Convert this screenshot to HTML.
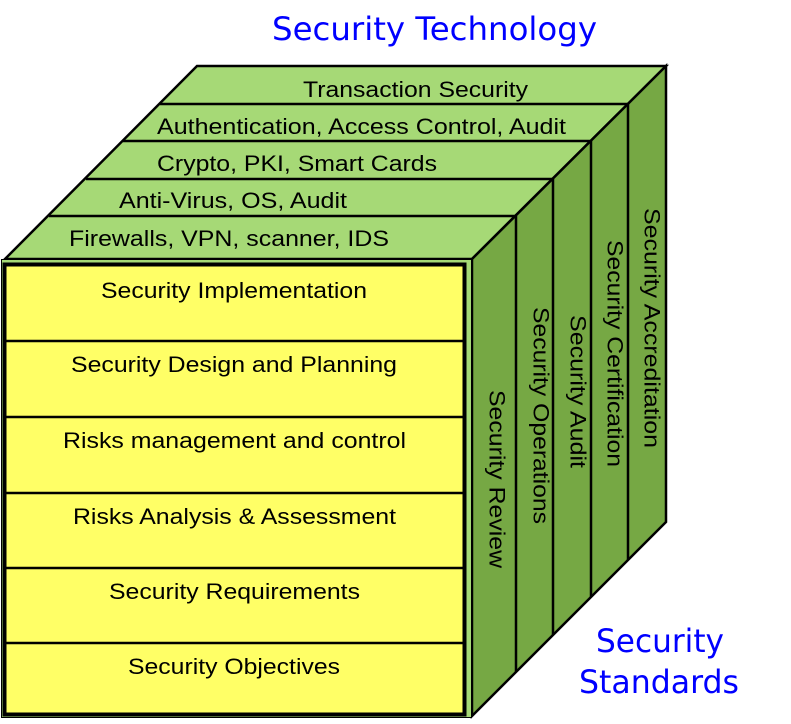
<!DOCTYPE html>
<html><head><meta charset="utf-8"><style>
html,body{margin:0;padding:0;background:#fff;}
svg{display:block;}
text{font-family:"Liberation Sans",Arial,sans-serif;fill:#000;}
.t{font-family:"DejaVu Sans","Liberation Sans",sans-serif;fill:#0000ff;}
</style></head><body>
<svg width="791" height="724" viewBox="0 0 791 724" xmlns="http://www.w3.org/2000/svg">
<polygon points="197,66 666,66 472,259 5,259" fill="#a6d976" stroke="#000" stroke-width="2.5"/>
<g stroke="#000" stroke-width="2.5">
<line x1="160" y1="104" x2="628" y2="104"/>
<line x1="123" y1="141" x2="591" y2="141"/>
<line x1="86" y1="179" x2="553" y2="179"/>
<line x1="49" y1="216" x2="516" y2="216"/>
</g>
<polygon points="472,259 666,66 666,522 472,716" fill="#76a844" stroke="#000" stroke-width="2.5"/>
<g stroke="#000" stroke-width="2.5">
<line x1="516" y1="216" x2="516" y2="672"/>
<line x1="553" y1="179" x2="553" y2="635"/>
<line x1="591" y1="141" x2="591" y2="597"/>
<line x1="628" y1="104" x2="628" y2="560"/>
</g>
<rect x="1.5" y="259.5" width="470" height="458" fill="#a6d976" stroke="#000" stroke-width="1"/>
<rect x="4.5" y="264.5" width="460" height="450" fill="#ffff66" stroke="#000" stroke-width="4"/>
<g stroke="#000" stroke-width="2.5">
<line x1="5" y1="341" x2="465" y2="341"/>
<line x1="5" y1="417" x2="465" y2="417"/>
<line x1="5" y1="493" x2="465" y2="493"/>
<line x1="5" y1="568" x2="465" y2="568"/>
<line x1="5" y1="643" x2="465" y2="643"/>
</g>
<g font-size="22" lengthAdjust="spacingAndGlyphs">
<text x="303" y="97" textLength="225" lengthAdjust="spacingAndGlyphs">Transaction Security</text>
<text x="157" y="134" textLength="409" lengthAdjust="spacingAndGlyphs">Authentication, Access Control, Audit</text>
<text x="157" y="171" textLength="280" lengthAdjust="spacingAndGlyphs">Crypto, PKI, Smart Cards</text>
<text x="119" y="208" textLength="228" lengthAdjust="spacingAndGlyphs">Anti-Virus, OS, Audit</text>
<text x="69" y="246" textLength="320" lengthAdjust="spacingAndGlyphs">Firewalls, VPN, scanner, IDS</text>
<text x="101" y="298" textLength="266" lengthAdjust="spacingAndGlyphs">Security Implementation</text>
<text x="71" y="372" textLength="326" lengthAdjust="spacingAndGlyphs">Security Design and Planning</text>
<text x="63" y="448" textLength="343" lengthAdjust="spacingAndGlyphs">Risks management and control</text>
<text x="73" y="524" textLength="323" lengthAdjust="spacingAndGlyphs">Risks Analysis &amp; Assessment</text>
<text x="109" y="599" textLength="251" lengthAdjust="spacingAndGlyphs">Security Requirements</text>
<text x="128" y="674" textLength="212" lengthAdjust="spacingAndGlyphs">Security Objectives</text>
</g>
<g font-size="22" dominant-baseline="central">
<text transform="translate(652,208) rotate(90)" textLength="240" lengthAdjust="spacingAndGlyphs">Security Accreditation</text>
<text transform="translate(615,240) rotate(90)" textLength="227" lengthAdjust="spacingAndGlyphs">Security Certification</text>
<text transform="translate(578,315) rotate(90)" textLength="153" lengthAdjust="spacingAndGlyphs">Security Audit</text>
<text transform="translate(541,307) rotate(90)" textLength="217" lengthAdjust="spacingAndGlyphs">Security Operations</text>
<text transform="translate(497,390) rotate(90)" textLength="178" lengthAdjust="spacingAndGlyphs">Security Review</text>
</g>
<text class="t" x="272" y="40" font-size="32" textLength="325" lengthAdjust="spacingAndGlyphs">Security Technology</text>
<text class="t" x="596" y="652" font-size="32" textLength="128" lengthAdjust="spacingAndGlyphs">Security</text>
<text class="t" x="579" y="693" font-size="32" textLength="160" lengthAdjust="spacingAndGlyphs">Standards</text>
</svg>
</body></html>
